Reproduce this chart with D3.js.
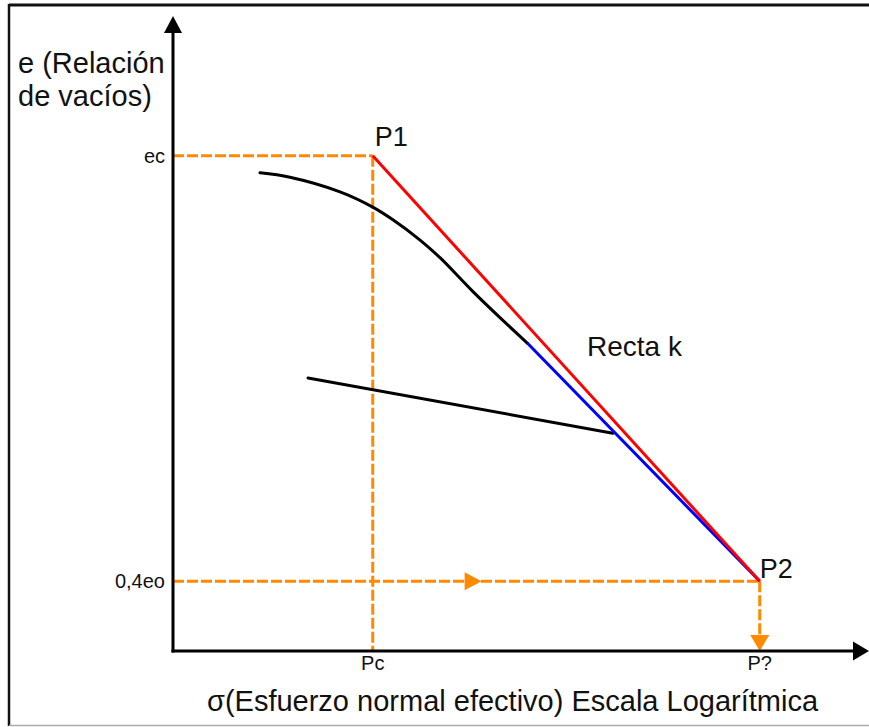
<!DOCTYPE html>
<html>
<head>
<meta charset="utf-8">
<script src="https://cdn.jsdelivr.net/npm/d3@7"></script>
<style>
  html, body { margin: 0; padding: 0; background: #fff; }
  svg { display: block; }
  text { font-family: "Liberation Sans", Arial, sans-serif; fill: #111; }
</style>
</head>
<body>
<svg id="chart" width="869" height="727"></svg>
<script>
// Virgin compression curve (log stress units, void ratio units)
const curveX = [12.5, 16.8, 24.0, 28.7, 31.6, 35.5, 38.4, 43.1, 49.9, 50.9];
const curveY = [75.3, 74.6, 72.3, 69.9, 67.9, 64.7, 61.9, 56.6, 49.5, 48.5];
// Straight (virgin) branch, drawn in blue
const virginX = [50.9, 84.3];
const virginY = [48.5, 11.0];
// Unload / reload branch
const reloadX = [19.4, 63.2];
const reloadY = [43.0, 34.3];
// Construction line "Recta k" from P1 to P2
const rectaX = [28.7, 84.3];
const rectaY = [78.0, 11.0];
// Reference values on the axes
const yTickValues = [78.0, 11.0];
const yTickLabels = ["ec", "0,4eo"];
const xTickValues = [28.7, 84.3];
const xTickLabels = ["Pc", "P?"];
const pointLabels = ["P1", "P2"];

const svg = d3.select("#chart");
const W = 869, H = 727;

const x = d3.scaleLinear().domain([0, 100]).range([173, 869]);
const y = d3.scaleLinear().domain([0, 100]).range([651, 16]);

const orange = "#ff8a00";
const dash = "11,3";

// Outer frame
svg.append("line").attr("x1", 9).attr("x2", W).attr("y1", 5).attr("y2", 5)
  .attr("stroke", "#111").attr("stroke-width", 3);
svg.append("line").attr("x1", 9).attr("x2", 9).attr("y1", 4).attr("y2", 726)
  .attr("stroke", "#111").attr("stroke-width", 2.5);
svg.append("line").attr("x1", 9).attr("x2", W).attr("y1", 725.5).attr("y2", 725.5)
  .attr("stroke", "#aaa").attr("stroke-width", 1.5);

// Orange guide lines
const P1 = [x(rectaX[0]), y(rectaY[0])];
const P2 = [x(rectaX[1]), y(rectaY[1])];
const g = svg.append("g").attr("stroke", orange).attr("stroke-width", 3)
  .attr("stroke-dasharray", dash).attr("fill", "none");
g.append("line").attr("x1", x(0)).attr("y1", y(yTickValues[0])).attr("x2", x(xTickValues[0])).attr("y2", y(yTickValues[0]));
g.append("line").attr("x1", x(xTickValues[0])).attr("y1", y(yTickValues[0])).attr("x2", x(xTickValues[0])).attr("y2", y(0));
g.append("line").attr("x1", x(0)).attr("y1", y(yTickValues[1])).attr("x2", x(xTickValues[1])).attr("y2", y(yTickValues[1]));
g.append("line").attr("x1", x(xTickValues[1])).attr("y1", y(yTickValues[1])).attr("x2", x(xTickValues[1])).attr("y2", y(0) - 12);

// Arrow on the horizontal guide, pointing right
const hx = x(0) + 0.526 * (x(xTickValues[1]) - x(0));
const hy = y(yTickValues[1]);
svg.append("path")
  .attr("d", `M${hx},${hy} L${hx - 17},${hy - 9} L${hx - 17},${hy + 9} Z`)
  .attr("fill", orange);
// Arrow on the vertical guide, pointing down to the axis
const vx = x(xTickValues[1]), vy = y(0);
svg.append("path")
  .attr("d", `M${vx},${vy} L${vx - 9.5},${vy - 16} L${vx + 9.5},${vy - 16} Z`)
  .attr("fill", orange);

// Compression curve
const line = d3.line().x(d => x(d[0])).y(d => y(d[1])).curve(d3.curveCatmullRom.alpha(0.5));
svg.append("path")
  .datum(curveX.map((v, i) => [v, curveY[i]]))
  .attr("d", line).attr("fill", "none").attr("stroke", "#000").attr("stroke-width", 3)
  .attr("stroke-linecap", "round");

// Reload branch
svg.append("path")
  .datum(reloadX.map((v, i) => [v, reloadY[i]]))
  .attr("d", d3.line().x(d => x(d[0])).y(d => y(d[1])))
  .attr("fill", "none").attr("stroke", "#000").attr("stroke-width", 3)
  .attr("stroke-linecap", "round");

// Virgin straight branch
svg.append("path")
  .datum(virginX.map((v, i) => [v, virginY[i]]))
  .attr("d", d3.line().x(d => x(d[0])).y(d => y(d[1])))
  .attr("fill", "none").attr("stroke", "#0000ff").attr("stroke-width", 3);

// Recta k
svg.append("path")
  .datum(rectaX.map((v, i) => [v, rectaY[i]]))
  .attr("d", d3.line().x(d => x(d[0])).y(d => y(d[1])))
  .attr("fill", "none").attr("stroke", "#ff0000").attr("stroke-width", 3);

// Axes with arrowheads
svg.append("line").attr("x1", x(0)).attr("y1", y(0) + 1.5).attr("x2", x(0)).attr("y2", y(100) + 16)
  .attr("stroke", "#000").attr("stroke-width", 3);
svg.append("path")
  .attr("d", `M${x(0)},${y(100)} L${x(0) - 9},${y(100) + 17} L${x(0) + 9},${y(100) + 17} Z`)
  .attr("fill", "#000");
svg.append("line").attr("x1", x(0) - 1.5).attr("y1", y(0)).attr("x2", x(100) - 16).attr("y2", y(0))
  .attr("stroke", "#000").attr("stroke-width", 3);
svg.append("path")
  .attr("d", `M${x(100)},${y(0)} L${x(100) - 16},${y(0) - 9.5} L${x(100) - 16},${y(0) + 9.5} Z`)
  .attr("fill", "#000");

// Axis reference labels
svg.selectAll("text.ytick").data(yTickValues).enter().append("text")
  .attr("class", "ytick")
  .attr("x", x(0) - 8).attr("y", d => y(d) + 7)
  .attr("text-anchor", "end").attr("font-size", 20)
  .text((d, i) => yTickLabels[i]);
svg.selectAll("text.xtick").data(xTickValues).enter().append("text")
  .attr("class", "xtick")
  .attr("x", d => x(d)).attr("y", y(0) + 19)
  .attr("text-anchor", "middle").attr("font-size", 20)
  .text((d, i) => xTickLabels[i]);

// Point labels
svg.append("text").attr("x", P1[0] + 2).attr("y", P1[1] - 10)
  .attr("font-size", 27).text(pointLabels[0]);
svg.append("text").attr("x", P2[0]).attr("y", P2[1] - 3)
  .attr("font-size", 27).text(pointLabels[1]);
svg.append("text").attr("x", 587).attr("y", 356)
  .attr("font-size", 28).text("Recta k");

// Axis titles
const yt = svg.append("text").attr("x", 18).attr("font-size", 29);
yt.append("tspan").attr("x", 18).attr("y", 73).text("e (Relación");
yt.append("tspan").attr("x", 18).attr("y", 106).text("de vacíos)");
svg.append("text").attr("x", 207).attr("y", 711).attr("font-size", 29)
  .text("σ(Esfuerzo normal efectivo) Escala Logarítmica");
</script>
</body>
</html>
